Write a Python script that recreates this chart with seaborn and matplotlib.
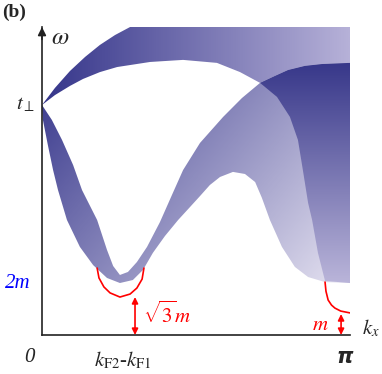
import numpy as np
import pandas as pd
import seaborn as sns
import matplotlib.pyplot as plt
from matplotlib.patches import Polygon
from matplotlib.colors import LinearSegmentedColormap

sns.set_style("white")
plt.rcParams["font.family"] = ["Liberation Serif", "DejaVu Serif"]
plt.rcParams["mathtext.fontset"] = "custom"
plt.rcParams["mathtext.rm"] = "STIXGeneral"
plt.rcParams["mathtext.it"] = "STIXGeneral:italic"
plt.rcParams["mathtext.bf"] = "STIXGeneral:bold"

# kx in units of pi, omega in units of t_perp
two_m = 0.226
k_diff = 0.253
y_top = 1.339

# upper band (A)
a_x = [0, 0.042, 0.091, 0.140, 0.188, 0.237, 0.286, 1.0, 1.0,
       0.909, 0.854, 0.799, 0.756, 0.708,
       0.643, 0.568, 0.458, 0.351, 0.244, 0.188, 0.133, 0.091, 0.042]
a_y = [1.0, 1.074, 1.148, 1.209, 1.261, 1.304, 1.339, 1.339, 1.183,
       1.178, 1.170, 1.152, 1.126, 1.096,
       1.143, 1.183, 1.196, 1.187, 1.165, 1.143, 1.113, 1.083, 1.043]

# big band (B): outer edge, right side, inner edge
b_x = [0, 0.003, 0.019, 0.036, 0.052, 0.081, 0.123, 0.166, 0.211, 0.253,
       0.295, 0.328, 0.360, 0.399, 0.442, 0.481, 0.513, 0.545, 0.578, 0.620,
       0.659, 0.692, 0.714, 0.740, 0.779, 0.821, 0.864, 0.919, 1.0,
       1.0, 0.909, 0.854, 0.799, 0.756, 0.708,
       0.649, 0.588, 0.513, 0.458, 0.422, 0.383, 0.341, 0.308, 0.279, 0.253,
       0.231, 0.211, 0.179, 0.130, 0.101, 0.065, 0.032]
b_y = [1.0, 0.935, 0.826, 0.717, 0.630, 0.500, 0.383, 0.304, 0.248, 0.226,
       0.239, 0.283, 0.357, 0.430, 0.500, 0.557, 0.604, 0.652, 0.687, 0.709,
       0.700, 0.665, 0.596, 0.500, 0.383, 0.296, 0.252, 0.230, 0.226,
       1.183, 1.178, 1.170, 1.152, 1.126, 1.096,
       1.030, 0.948, 0.835, 0.717, 0.609, 0.491, 0.383, 0.317, 0.274, 0.261,
       0.300, 0.370, 0.500, 0.630, 0.739, 0.848, 0.935]

# right band (C)
c_x = [0.708, 0.756, 0.799, 0.854, 0.909, 1.0, 1.0, 0.919,
       0.896, 0.877, 0.864, 0.847, 0.831, 0.805, 0.763]
c_y = [1.096, 1.126, 1.152, 1.170, 1.178, 1.183, 0.226, 0.235,
       0.357, 0.500, 0.574, 0.717, 0.848, 0.948, 1.035]

# red curves
u_x = [0.179, 0.185, 0.201, 0.221, 0.253, 0.286, 0.308, 0.325, 0.331]
u_y = [0.291, 0.248, 0.209, 0.183, 0.165, 0.178, 0.204, 0.243, 0.291]
r_x = [0.919, 0.922, 0.929, 0.940, 0.951, 0.970, 1.0]
r_y = [0.230, 0.190, 0.152, 0.130, 0.117, 0.104, 0.096]

fig = plt.figure(figsize=(3.82, 3.74), dpi=100)
ax = fig.add_axes([42 / 382, 39 / 374, 308 / 382, 308 / 374])

gx, gy = np.meshgrid(np.linspace(0, 1, 300), np.linspace(0, y_top, 300))
ext = [0, 1, 0, y_top]

cA = LinearSegmentedColormap.from_list("a", ["#35358a", "#b6b1d8"])
cB = LinearSegmentedColormap.from_list("b", ["#34348a", "#ece9f5"])
cC = LinearSegmentedColormap.from_list("c", ["#38388a", "#b9b4d9"])

vals = [gx, 0.6 * gx + 0.45 * (1.2 - gy) / 1.2, (1.18 - gy) / 0.95]
for (px, py), cm, v, z in zip([(a_x, a_y), (b_x, b_y), (c_x, c_y)],
                              [cA, cB, cC], vals, [1, 2, 3]):
    poly = Polygon(list(zip(px, py)), closed=True, facecolor="none",
                   edgecolor="none")
    ax.add_patch(poly)
    im = ax.imshow(np.clip(v, 0, 1), extent=ext, origin="lower", aspect="auto",
                   cmap=cm, vmin=0, vmax=1, interpolation="bilinear", zorder=z)
    im.set_clip_path(poly)

red = "#ff0000"
sns.lineplot(x=u_x, y=u_y, sort=False, color=red, lw=1.2, ax=ax, zorder=5)
sns.lineplot(x=r_x, y=r_y, sort=False, color=red, lw=1.2, ax=ax, zorder=5)

ax.annotate("", xy=(0.302, 0.165), xytext=(0.302, 0),
            arrowprops=dict(arrowstyle="<|-|>", color=red, lw=1.2,
                            mutation_scale=9, shrinkA=0, shrinkB=0))
ax.annotate("", xy=(0.971, 0.091), xytext=(0.971, 0),
            arrowprops=dict(arrowstyle="<|-|>", color=red, lw=1.2,
                            mutation_scale=9, shrinkA=0, shrinkB=0))

ax.set_xlim(0, 1)
ax.set_ylim(0, y_top)
sns.despine(ax=ax)
for s in ["left", "bottom"]:
    ax.spines[s].set_color("#222222")
    ax.spines[s].set_linewidth(1.2)
ax.set_xticks([k_diff, 1.0])
ax.set_yticks([two_m, 1.0])
ax.tick_params(direction="in", length=5, width=1, color="#555555",
               labelbottom=False, labelleft=False)
ax.annotate("", xy=(0, 1.0), xycoords="axes fraction", xytext=(0, 0.96),
            arrowprops=dict(arrowstyle="-|>", color="#222222", lw=1.2,
                            mutation_scale=12, shrinkA=0, shrinkB=0))

fs = 15
ax.text(0.058, 1.29, r"$\omega$", fontsize=18, ha="center", va="center")
ax.text(-0.052, 1.0, r"$t_{\perp}$", fontsize=fs, ha="center", va="center")
ax.text(-0.078, two_m, "2m", fontsize=fs, style="italic", color="#0000ff",
        ha="center", va="center")
ax.text(-0.042, -0.096, "0", fontsize=fs, style="italic", ha="center",
        va="center")
ax.text(0.263, -0.109, r"$k_{\rm F2}$-$k_{\rm F1}$", fontsize=fs, ha="center",
        va="center")
ax.text(0.984, -0.10, r"$\boldsymbol{\pi}$", fontsize=fs, ha="center",
        va="center")
ax.text(1.068, 0.03, r"$k_x$", fontsize=fs, ha="center", va="center")
ax.text(0.328, 0.087, r"$\sqrt{3}m$", fontsize=fs, color=red,
        ha="left", va="center")
ax.text(0.903, 0.043, r"$m$", fontsize=fs, color=red, ha="center", va="center")
fig.text(0.005, 0.968, "(b)", fontsize=14, fontweight="bold", ha="left",
         va="center")

fig.savefig("out.png", dpi=100)
